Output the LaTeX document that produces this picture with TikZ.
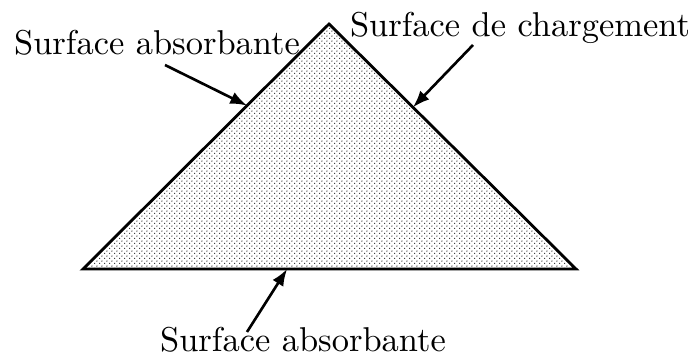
\documentclass[tikz,border=0pt]{standalone}
\usepackage{tikz}
\usetikzlibrary{arrows.meta,calc,patterns.meta}

\tikzdeclarepattern{
  name=fdots, type=uncolored,
  bottom left={(0pt,0pt)}, top right={(1.5pt,1.5pt)},
  tile size={(1.5pt,1.5pt)},
  code={
    \fill (0.2pt,0.2pt) circle (0.24pt);
    \fill (0.95pt,0.95pt) circle (0.24pt);
  }
}

\begin{document}
\begin{tikzpicture}[x=0.01cm,y=-0.01cm,
  lbl/.style={inner sep=0pt,anchor=base,font=\fontsize{9.8}{12}\selectfont},
  ptr/.style={line width=0.75pt,-{Latex[length=4.8pt,width=3.6pt]}}]
  \useasboundingbox (0,0) rectangle (700,358);
  % triangle
  \coordinate (L) at (83,269);
  \coordinate (A) at (329,24);
  \coordinate (R) at (576,269);
  \draw[line width=0.8pt,line join=miter,pattern=fdots,pattern color=black!75]
    (L) -- (A) -- (R) -- cycle;
  % labels
  \node[lbl] (absg) at (157,55) {Surface absorbante};
  \node[lbl] (charg) at (520,37) {Surface de chargement};
  \node[lbl] (absb) at (303,352) {Surface absorbante};
  % arrows
  \coordinate (s1) at (165,65);
  \coordinate (s2) at (473,45);
  \coordinate (s3) at (247,332);
  \coordinate (e1) at ($(L)!0.667!(A)$);
  \coordinate (e2) at ($(A)!0.34!(R)$);
  \coordinate (e3) at ($(L)!0.414!(R)$);
  \draw[ptr] (s1) -- (e1);
  \draw[ptr] (s2) -- (e2);
  \draw[ptr] (s3) -- (e3);
\end{tikzpicture}
\end{document}
